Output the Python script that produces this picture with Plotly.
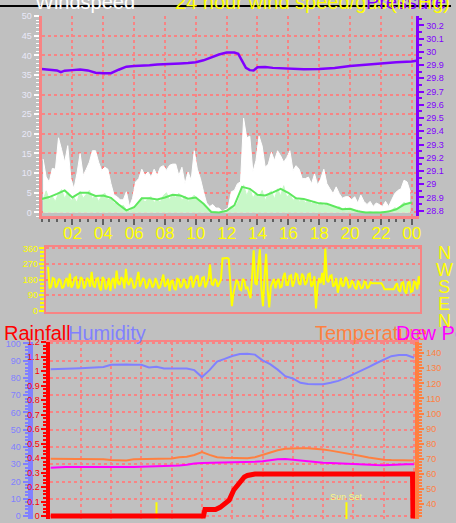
import plotly.graph_objects as go

W, H = 456, 523

# ---------------- data ----------------
# 12-minute samples (hours of day) for gust / speed / direction
fine_hours = [round(0.1 + 0.2 * k, 1) for k in range(120)]
mid_hours = [round(0.2 + 0.2 * k, 1) for k in range(120)]
half_hours = [0.5 * k for k in range(49)]

gust = [13.6, 9, 7.75, 11.2, 11, 19, 16, 12.8, 17, 8.6,
        6, 10, 15, 9.4, 11, 12.8, 15.7, 15.7, 12.8, 10.7,
        11.5, 11, 7.3, 4.4, 4, 3.2, 3.2, 5.25, 1.5, 3.6,
        7.75, 8.6, 11, 9.4, 10.3, 9, 11, 9.4, 11.5, 11.9,
        10.7, 12, 12.3, 12.3, 9.4, 11.5, 7.3, 10.3, 8.2, 15.7,
        11, 8.6, 5.3, 2.4, 1.5, 2, 1.1, 1.1, 0.25, 0.7,
        1.1, 5.25, 5.6, 7.3, 7.75, 24, 19, 19.4, 10.3, 13.2,
        19.4, 16.9, 11.5, 12.3, 15.3, 13.2, 15.7, 14.4, 12.8, 14,
        15.7, 10.7, 11.9, 11, 8.6, 8.6, 9, 7.3, 9.8, 6.9,
        8.6, 11, 7.3, 6, 4.8, 6.5, 4.8, 3.6, 4, 4,
        3.2, 4, 2.4, 4.4, 2.8, 2, 2.8, 1.5, 2.4, 2,
        1.5, 2.8, 1.5, 3.2, 4.8, 5.6, 6, 8.2, 7.75, 5.3]

speed = [3.0, 5.5, 3.2, 4.0, 2.8, 4.8, 5.8, 3.5, 5.2, 3.0,
         3.8, 2.5, 5.4, 3.6, 4.6, 5.6, 3.5, 4.4, 2.8, 4.2,
         4.9, 3.2, 3.6, 2.2, 2.6, 1.4, 1.8, 0.6, 0.3, 0.9,
         1.6, 2.8, 3.8, 2.6, 3.5, 4.0, 2.5, 3.4, 2.6, 4.3,
         5.0, 3.2, 4.6, 3.8, 4.9, 3.0, 4.2, 2.8, 3.6, 4.4,
         3.2, 2.6, 1.8, 1.2, 0.4, 0.2, 0.1, 0.0, 0.1, 0.2,
         0.8, 1.6, 1.0, 2.4, 4.5, 7.0, 4.2, 6.2, 3.6, 5.0,
         3.8, 5.6, 3.0, 4.8, 5.4, 3.4, 6.0, 4.2, 6.8, 3.8,
         4.8, 3.0, 3.9, 2.8, 3.6, 2.4, 3.2, 2.2, 2.9, 1.8,
         2.6, 1.6, 2.4, 1.4, 1.8, 1.0, 1.5, 0.6, 1.2, 0.5,
         1.0, 0.3, 0.6, 0.2, 0.1, 0.0, 0.2, 0.0, 0.1, 0.0,
         0.2, 0.0, 0.4, 0.6, 1.2, 0.8, 1.8, 2.6, 2.0, 2.8]

avg_speed = [3.4, 3.9, 4.7, 5.6, 3.8, 5.0, 5.0, 4.2, 4.3, 3.7,
             2.0, 0.5, 1.3, 3.6, 3.6, 3.3, 3.8, 4.5, 4.3, 3.5,
             3.8, 2.2, 0.1, 0.0, 0.4, 1.8, 6.5, 6.0, 4.5, 4.3,
             5.1, 6.0, 5.0, 3.6, 3.4, 2.9, 2.3, 2.2, 1.4, 0.8,
             0.9, 0.3, 0.0, 0.0, 0.0, 0.2, 0.8, 2.0, 2.5]

pressure_hours = [0, 0.5, 1.0, 1.25, 1.5, 2.0, 2.5, 3.0, 3.5, 4.0, 4.5, 5.0, 5.5,
                  6.0, 6.5, 7.0, 7.5, 8.0, 8.5, 9.0, 9.5, 10.0, 10.5, 11.0, 11.5,
                  12.0, 12.5, 12.75, 13.0, 13.25, 13.5, 13.75, 14.0, 14.5, 15.0,
                  16.0, 17.0, 18.0, 19.0, 20.0, 21.0, 22.0, 23.0, 24.0, 24.3]
pressure = [29.871, 29.867, 29.860, 29.847, 29.858, 29.862, 29.866, 29.860, 29.842,
            29.839, 29.839, 29.865, 29.888, 29.893, 29.895, 29.899, 29.905, 29.909,
            29.911, 29.912, 29.915, 29.922, 29.936, 29.960, 29.980, 29.995, 29.995,
            29.985, 29.93, 29.88, 29.862, 29.86, 29.884, 29.885, 29.879, 29.872,
            29.869, 29.871, 29.878, 29.893, 29.903, 29.915, 29.921, 29.928, 29.933]

# wind direction, samples on fine_hours and on mid_hours (interleaved)
direction = [255, 140, 185, 150, 175, 140, 190, 215, 150, 195,
             140, 185, 145, 180, 225, 135, 190, 118, 180, 145,
             115, 190, 232, 150, 185, 243, 150, 175, 140, 225,
             160, 175, 145, 170, 150, 165, 140, 210, 155, 115,
             175, 120, 180, 145, 170, 140, 200, 160, 205, 150,
             195, 160, 268, 150, 175, 160, 303, 303, 300, 28,
             140, 165, 120, 175, 135, 73, 350, 150, 355, 28,
             330, 20, 160, 130, 185, 140, 220, 150, 205, 165,
             210, 150, 200, 165, 215, 155, 15, 190, 220, 360,
             165, 205, 150, 105, 190, 150, 180, 140, 160, 125,
             155, 135, 165, 140, 160, 160, 160, 160, 125, 125,
             125, 125, 160, 110, 165, 100, 170, 115, 165, 200]
direction_mid = [130, 190, 135, 185, 130, 175, 140, 135, 190, 130,
                 195, 130, 190, 140, 150, 185, 135, 195, 125, 190,
                 175, 130, 160, 195, 130, 165, 190, 130, 185, 140,
                 190, 130, 185, 135, 190, 130, 180, 140, 185, 170,
                 130, 185, 135, 185, 130, 190, 135, 195, 140, 190,
                 135, 190, 155, 185, 140, 180, 305, 305, 160, 100,
                 180, 125, 185, 130, 100, 200, 160, 270, 120, 200,
                 120, 140, 185, 170, 135, 195, 150, 200, 140, 215,
                 160, 215, 150, 210, 140, 200, 140, 160, 150, 180,
                 200, 140, 190, 160, 140, 195, 135, 175, 135, 175,
                 130, 170, 130, 165, 160, 160, 160, 145, 125, 125,
                 125, 145, 120, 160, 115, 160, 110, 170, 125, 150]

humidity = [85, 85, 85.2, 85.4, 85.6, 85.8, 86, 86.3, 87.6, 87.8,
            87.8, 87.6, 87.6, 86, 86.5, 85.5, 85.6, 85.8, 85.5, 84.5,
            80.5, 84.5, 89.5, 91, 92.7, 93.8, 94, 93.5, 90.2, 88,
            84.8, 81, 79.7, 77.2, 76.5, 76.3, 76.3, 77.2, 78.3, 80,
            82, 84, 86.3, 88.5, 90.5, 92.6, 93.2, 93.3, 91.7]

temperature = [70, 70, 70, 70, 70, 70, 69.9, 69.6, 69.1, 68.9,
               68.9, 69.6, 69.8, 70, 70, 70, 70.2, 71, 71.3, 72.5,
               74.5, 72.6, 71, 70.6, 70.6, 70.2, 70.4, 71, 72.6, 74,
               75.6, 76.6, 77, 77, 77, 76.8, 76.1, 75.4, 74.6, 73.7,
               72.8, 71.8, 70.8, 69.8, 69.3, 69.1, 69, 69, 68.9]

dewpoint = [64, 64.5, 64.6, 64.6, 64.6, 64.6, 64.6, 64.5, 64.4, 64.1,
            64.3, 64.6, 64.7, 64.8, 64.8, 64.9, 65, 65.5, 66.1, 66.9,
            67.2, 67.3, 67.3, 67.3, 67.4, 67.5, 67.8, 68, 68.3, 69,
            69.6, 69.8, 69.3, 68.5, 68, 67.7, 67.4, 67.2, 66.9, 66.6,
            66.3, 66.1, 66, 65.8, 65.7, 66, 66.3, 66.3, 66.3]

rain_hours = [0, 10.1, 10.2, 10.9, 11.2, 11.5, 11.8, 12.1, 12.5, 12.8, 13.0, 13.5, 23.9, 23.93, 24.09]
rain = [0, 0, 0.045, 0.045, 0.06, 0.08, 0.11, 0.18, 0.24, 0.27, 0.28, 0.29, 0.29, 0, 0]

sun_hours = [7.0, 19.54]
sun_labels = ["", "Sun Set"]

hour_tickvals = [2, 4, 6, 8, 10, 12, 14, 16, 18, 20, 22, 24]
hour_ticktext = ["02", "04", "06", "08", "10", "12", "14", "16", "18", "20", "22", "00"]
pressure_ticktext = ["28.8", "28.9", "29", "29.1", "29.2", "29.3", "29.4", "29.5",
                     "29.6", "29.7", "29.8", "29.9", "30", "30.1", "30.2"]
rain_ticktext = ["0", "0.1", "0.2", "0.3", "0.4", "0.5", "0.6", "0.7", "0.8",
                 "0.9", "1", "1.1", "1.2"]
direction_ticks = [0, 90, 180, 270, 360]
compass = ["N", "W", "S", "E", "N"]

# ---------------- styling ----------------
BG = "#C0C0C0"
PINK = "#F88484"
PURPLE = "#8000FF"
YELLOW = "#FFFF00"
HUM = "#8080FF"
TEMP = "#FF8040"
DEW = "#FF00FF"
RED = "#FF0000"
FONT = "Liberation Sans"


def fx(px):
    return px / W


def fy(py):
    return 1 - py / H


fig = go.Figure()

# panel 1: wind + pressure
fig.add_trace(go.Scatter(x=fine_hours, y=gust, mode="lines", fill="tozeroy",
                         fillcolor="#FFFFFF", line=dict(color="#FFFFFF", width=1),
                         xaxis="x", yaxis="y"))
fig.add_trace(go.Scatter(x=fine_hours, y=speed, mode="lines", fill="tozeroy",
                         fillcolor="#C8F8C8", line=dict(color="#C8F8C8", width=1),
                         xaxis="x", yaxis="y"))
fig.add_trace(go.Scatter(x=half_hours, y=avg_speed, mode="lines",
                         line=dict(color="#5EE85E", width=2), xaxis="x", yaxis="y"))
fig.add_trace(go.Scatter(x=pressure_hours, y=pressure, mode="lines",
                         line=dict(color=PURPLE, width=2.5), xaxis="x", yaxis="y2"))

# panel 2: wind direction (interleave the two sample sets by time)
dir_pairs = sorted(list(zip(fine_hours, direction)) + list(zip(mid_hours, direction_mid)))
fig.add_trace(go.Scatter(x=[p[0] for p in dir_pairs], y=[p[1] for p in dir_pairs],
                         mode="lines", line=dict(color=YELLOW, width=2),
                         xaxis="x2", yaxis="y3"))

# panel 3: humidity, rain, temperature, dew point
fig.add_trace(go.Scatter(x=half_hours, y=humidity, mode="lines",
                         line=dict(color=HUM, width=2), xaxis="x3", yaxis="y4"))
fig.add_trace(go.Scatter(x=half_hours, y=temperature, mode="lines",
                         line=dict(color=TEMP, width=2), xaxis="x3", yaxis="y6"))
fig.add_trace(go.Scatter(x=half_hours, y=dewpoint, mode="lines",
                         line=dict(color=DEW, width=2), xaxis="x3", yaxis="y6"))
sun_x, sun_y = [], []
for h in sun_hours:
    sun_x += [h, h, None]
    sun_y += [-0.03, 0.095, None]
fig.add_trace(go.Scatter(x=sun_x, y=sun_y, mode="lines",
                         line=dict(color=YELLOW, width=2), xaxis="x3", yaxis="y5"))
fig.add_trace(go.Scatter(x=rain_hours, y=rain, mode="lines",
                         line=dict(color=RED, width=5), xaxis="x3", yaxis="y5"))

annotations = []
for h, lab in zip(sun_hours, sun_labels):
    if lab:
        annotations.append(dict(x=h, y=0.08, xref="x3", yref="y5", text=lab,
                                showarrow=False, yanchor="bottom",
                                font=dict(size=9, color="#F8F880")))

# clipped titles at top of panel 1
for txt, x0, col in [("Windspeed", 33, "#FFFFFF"), ("24 hour wind speed/gust", 175, YELLOW),
                     ("Pressure", 368, PURPLE), ("(in Hg)", 392, YELLOW)]:
    annotations.append(dict(x=fx(x0), y=fy(10.5), xref="paper", yref="paper", text=txt,
                            showarrow=False, xanchor="left", yanchor="bottom",
                            font=dict(size=20, color=col)))

# panel 3 titles
for txt, x0, col in [("Rainfall", 2, RED), ("Humidity", 67, HUM),
                     ("Temperature", 316, TEMP), ("Dew Point", 398, DEW)]:
    annotations.append(dict(x=fx(x0), y=fy(347), xref="paper", yref="paper", text=txt,
                            showarrow=False, xanchor="left", yanchor="bottom",
                            font=dict(size=20, color=col)))

# compass label of panel 2
for i, c in enumerate(compass):
    annotations.append(dict(x=fx(449), y=fy(252 + 17.5 * i), xref="paper", yref="paper",
                            text=c, showarrow=False, xanchor="center", yanchor="middle",
                            font=dict(size=18, color=YELLOW)))

shapes = [dict(type="rect", xref="paper", yref="paper", x0=0, x1=1, y0=fy(2), y1=1,
               fillcolor="#000000", line=dict(width=0), layer="above")]

fig.update_layout(
    width=W, height=H, autosize=False,
    margin=dict(l=0, r=0, t=0, b=0, pad=0),
    paper_bgcolor=BG, plot_bgcolor=BG, showlegend=False,
    font=dict(family=FONT),
    annotations=annotations, shapes=shapes,
    xaxis=dict(domain=[fx(42), fx(421)], range=[0, 24.3], anchor="y",
               showline=True, linecolor=PINK, linewidth=3,
               tickmode="array", tickvals=hour_tickvals, ticktext=hour_ticktext,
               ticks="outside", ticklen=6, tickwidth=2, tickcolor="#606060",
               tickfont=dict(size=17, color=YELLOW), ticklabelstandoff=-7,
               showgrid=True, gridcolor=PINK, griddash="dot", gridwidth=2, zeroline=False,
               minor=dict(tickmode="linear", tick0=0, dtick=0.5, ticks="outside",
                          ticklen=3, tickwidth=2, tickcolor="#606060", showgrid=False)),
    yaxis=dict(domain=[fy(215), fy(11.3)], range=[-1, 50], anchor="x",
               showline=True, linecolor=PINK, linewidth=3,
               tickmode="linear", tick0=0, dtick=5,
               ticks="outside", ticklen=5, tickwidth=2, tickcolor="#FFFFFF",
               tickfont=dict(size=9, color="#E8E8F8"),
               showgrid=True, gridcolor=PINK, griddash="dot", gridwidth=2, zeroline=False,
               minor=dict(tickmode="linear", tick0=0, dtick=1, ticks="outside",
                          ticklen=3, tickwidth=1, tickcolor="#FFFFFF", showgrid=False)),
    yaxis2=dict(overlaying="y", side="right", anchor="x", range=[28.758, 30.27],
                tickmode="array", tickvals=[float(t) for t in pressure_ticktext],
                ticktext=pressure_ticktext,
                showline=True, linecolor=PURPLE, linewidth=3,
                ticks="outside", ticklen=5, tickwidth=2, tickcolor=PURPLE,
                tickfont=dict(size=9, color=PURPLE), showgrid=False, zeroline=False,
                minor=dict(tickmode="linear", tick0=28.8, dtick=0.05, ticks="outside",
                           ticklen=3, tickwidth=2, tickcolor=PURPLE, showgrid=False)),
    xaxis2=dict(domain=[fx(47), fx(425)], range=[0, 24], anchor="y3",
                showline=True, mirror=True, linecolor=PINK, linewidth=2,
                showticklabels=False, ticks="", showgrid=False, zeroline=False),
    yaxis3=dict(domain=[fy(312), fy(246)], range=[-4, 370], anchor="x2",
                tickmode="array", tickvals=direction_ticks,
                showline=True, mirror=True, linecolor=PINK, linewidth=2,
                ticks="outside", ticklen=5, tickwidth=2, tickcolor=YELLOW,
                tickfont=dict(size=9, color=YELLOW),
                showgrid=True, gridcolor=PINK, griddash="dot", gridwidth=2, zeroline=False,
                minor=dict(tickmode="linear", tick0=0, dtick=22.5, ticks="outside",
                           ticklen=4, tickwidth=2, tickcolor=YELLOW, showgrid=False)),
    xaxis3=dict(domain=[fx(51), fx(420)], range=[0, 24.09], anchor="y4", side="top",
                showline=True, linecolor=PINK, linewidth=2,
                tickmode="array", tickvals=hour_tickvals, showticklabels=False, ticks="",
                showgrid=True, gridcolor=PINK, griddash="dot", gridwidth=2, zeroline=False),
    yaxis4=dict(domain=[0, fy(343)], range=[-1.7, 100.74], anchor="free", position=fx(30),
                side="left", tickmode="linear", tick0=0, dtick=10,
                showline=True, linecolor=HUM, linewidth=5,
                ticks="outside", ticklen=5, tickwidth=2, tickcolor=HUM,
                tickfont=dict(size=9, color=HUM),
                showgrid=True, gridcolor=PINK, griddash="dot", gridwidth=2, zeroline=False,
                minor=dict(tickmode="linear", tick0=0, dtick=2, ticks="outside",
                           ticklen=3, tickwidth=2, tickcolor=HUM, showgrid=False)),
    yaxis5=dict(overlaying="y4", anchor="x3", side="left", range=[-0.0203, 1.2],
                tickmode="array", tickvals=[float(t) for t in rain_ticktext],
                ticktext=rain_ticktext,
                showline=True, linecolor=RED, linewidth=4,
                ticks="outside", ticklen=5, tickwidth=2, tickcolor=RED,
                tickfont=dict(size=9, color=RED), showgrid=False, zeroline=False,
                minor=dict(tickmode="linear", tick0=0, dtick=0.025, ticks="outside",
                           ticklen=3, tickwidth=2, tickcolor=RED, showgrid=False)),
    yaxis6=dict(overlaying="y4", anchor="x3", side="right", range=[30.03, 147.4],
                tickmode="linear", tick0=40, dtick=10,
                showline=True, linecolor=TEMP, linewidth=4,
                ticks="outside", ticklen=5, tickwidth=2, tickcolor=TEMP,
                tickfont=dict(size=9, color=TEMP), showgrid=False, zeroline=False,
                minor=dict(tickmode="linear", tick0=0, dtick=2, ticks="outside",
                           ticklen=3, tickwidth=2, tickcolor=TEMP, showgrid=False)),
)

fig.write_html("out.html", config={"displayModeBar": False},
               post_script="document.body.style.margin='0';document.body.style.overflow='hidden';")
